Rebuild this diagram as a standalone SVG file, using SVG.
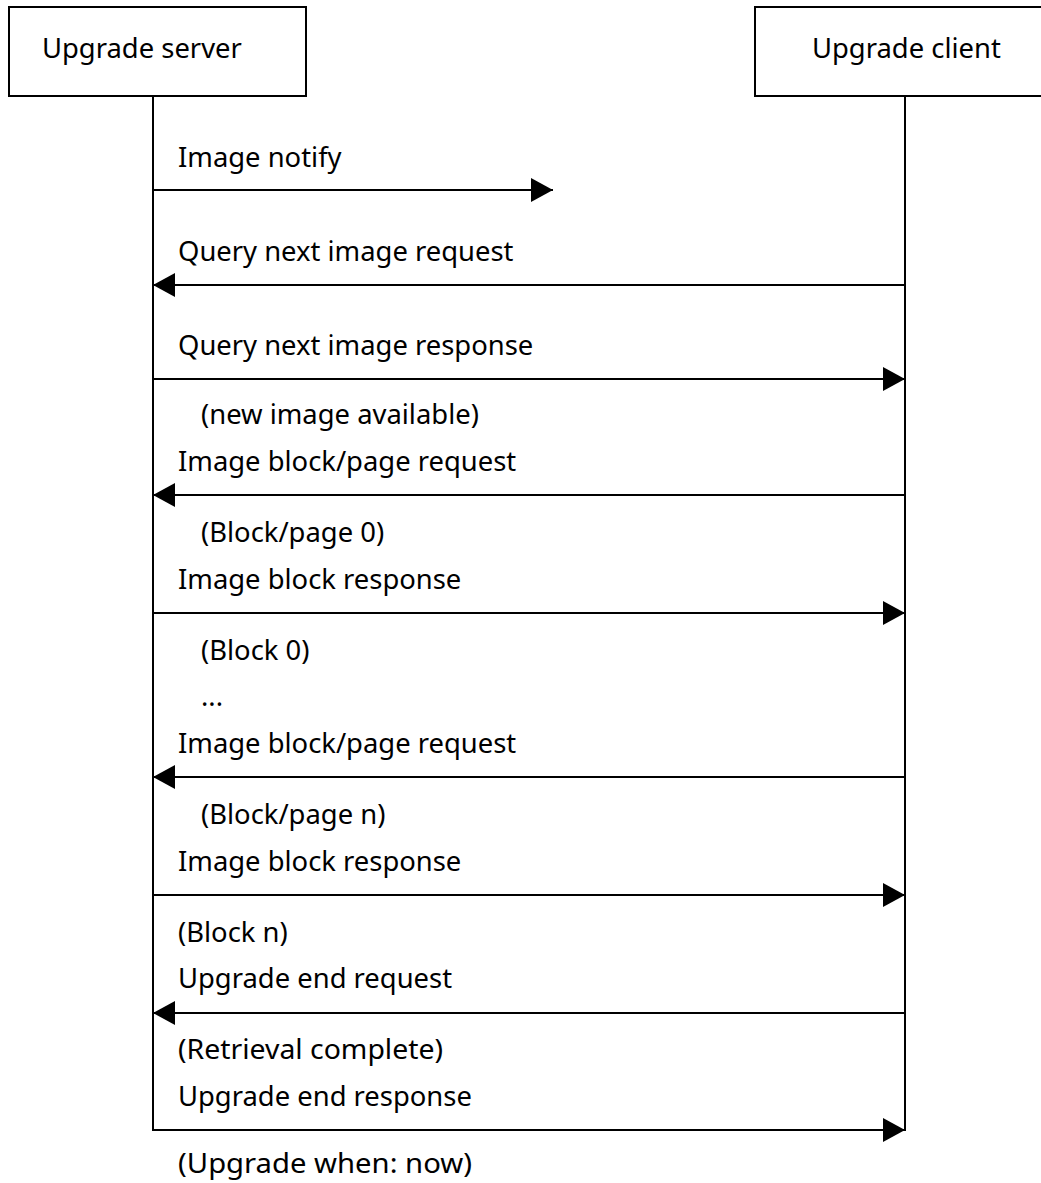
<svg xmlns="http://www.w3.org/2000/svg" width="1041" height="1183" viewBox="0 0 1041 1183">
<style>
text{font-family:"Noto Sans","Open Sans",sans-serif;font-size:27.4px;fill:#000}
.box{fill:#fff;stroke:#000;stroke-width:2}
.life{stroke:#000;stroke-width:2;fill:none}
.msg{stroke:#000;stroke-width:2;fill:none}
</style>
<defs>
<marker id="ah" markerWidth="22" markerHeight="24" refX="22" refY="12" orient="auto" markerUnits="userSpaceOnUse">
<path d="M0,0 L22,12 L0,24 Z" fill="#000"/>
</marker>
</defs>
<g id="server">
<rect class="box" x="9" y="7" width="297" height="89"/>
<text x="42" y="58">Upgrade server</text>
<line class="life" x1="153" y1="96" x2="153" y2="1131"/>
</g>
<g id="client">
<rect class="box" x="755" y="7" width="300" height="89"/>
<text x="812" y="58">Upgrade client</text>
<line class="life" x1="905" y1="96" x2="905" y2="1131"/>
</g>
<g id="connectors">
<line class="msg" x1="153" y1="190" x2="553" y2="190" marker-end="url(#ah)"/>
<line class="msg" x1="905" y1="285" x2="153" y2="285" marker-end="url(#ah)"/>
<line class="msg" x1="153" y1="379" x2="905" y2="379" marker-end="url(#ah)"/>
<line class="msg" x1="905" y1="495" x2="153" y2="495" marker-end="url(#ah)"/>
<line class="msg" x1="153" y1="613" x2="905" y2="613" marker-end="url(#ah)"/>
<line class="msg" x1="905" y1="777" x2="153" y2="777" marker-end="url(#ah)"/>
<line class="msg" x1="153" y1="895" x2="905" y2="895" marker-end="url(#ah)"/>
<line class="msg" x1="905" y1="1013" x2="153" y2="1013" marker-end="url(#ah)"/>
<line class="msg" x1="153" y1="1130" x2="905" y2="1130" marker-end="url(#ah)"/>
</g>
<g id="labels">
<text x="178" y="167">Image notify</text>
<text x="178" y="261">Query next image request</text>
<text x="178" y="355">Query next image response</text>
<text x="201" y="424">(new image available)</text>
<text x="178" y="471">Image block/page request</text>
<text x="201" y="542">(Block/page 0)</text>
<text x="178" y="589">Image block response</text>
<text x="201" y="660">(Block 0)</text>
<text x="201" y="706">...</text>
<text x="178" y="753">Image block/page request</text>
<text x="201" y="824">(Block/page n)</text>
<text x="178" y="871">Image block response</text>
<text x="178" y="942">(Block n)</text>
<text x="178" y="988">Upgrade end request</text>
<text x="178" y="1059" textLength="265" lengthAdjust="spacingAndGlyphs">(Retrieval complete)</text>
<text x="178" y="1106">Upgrade end response</text>
<text x="178" y="1173" textLength="294" lengthAdjust="spacingAndGlyphs">(Upgrade when: now)</text>
</g>
</svg>
